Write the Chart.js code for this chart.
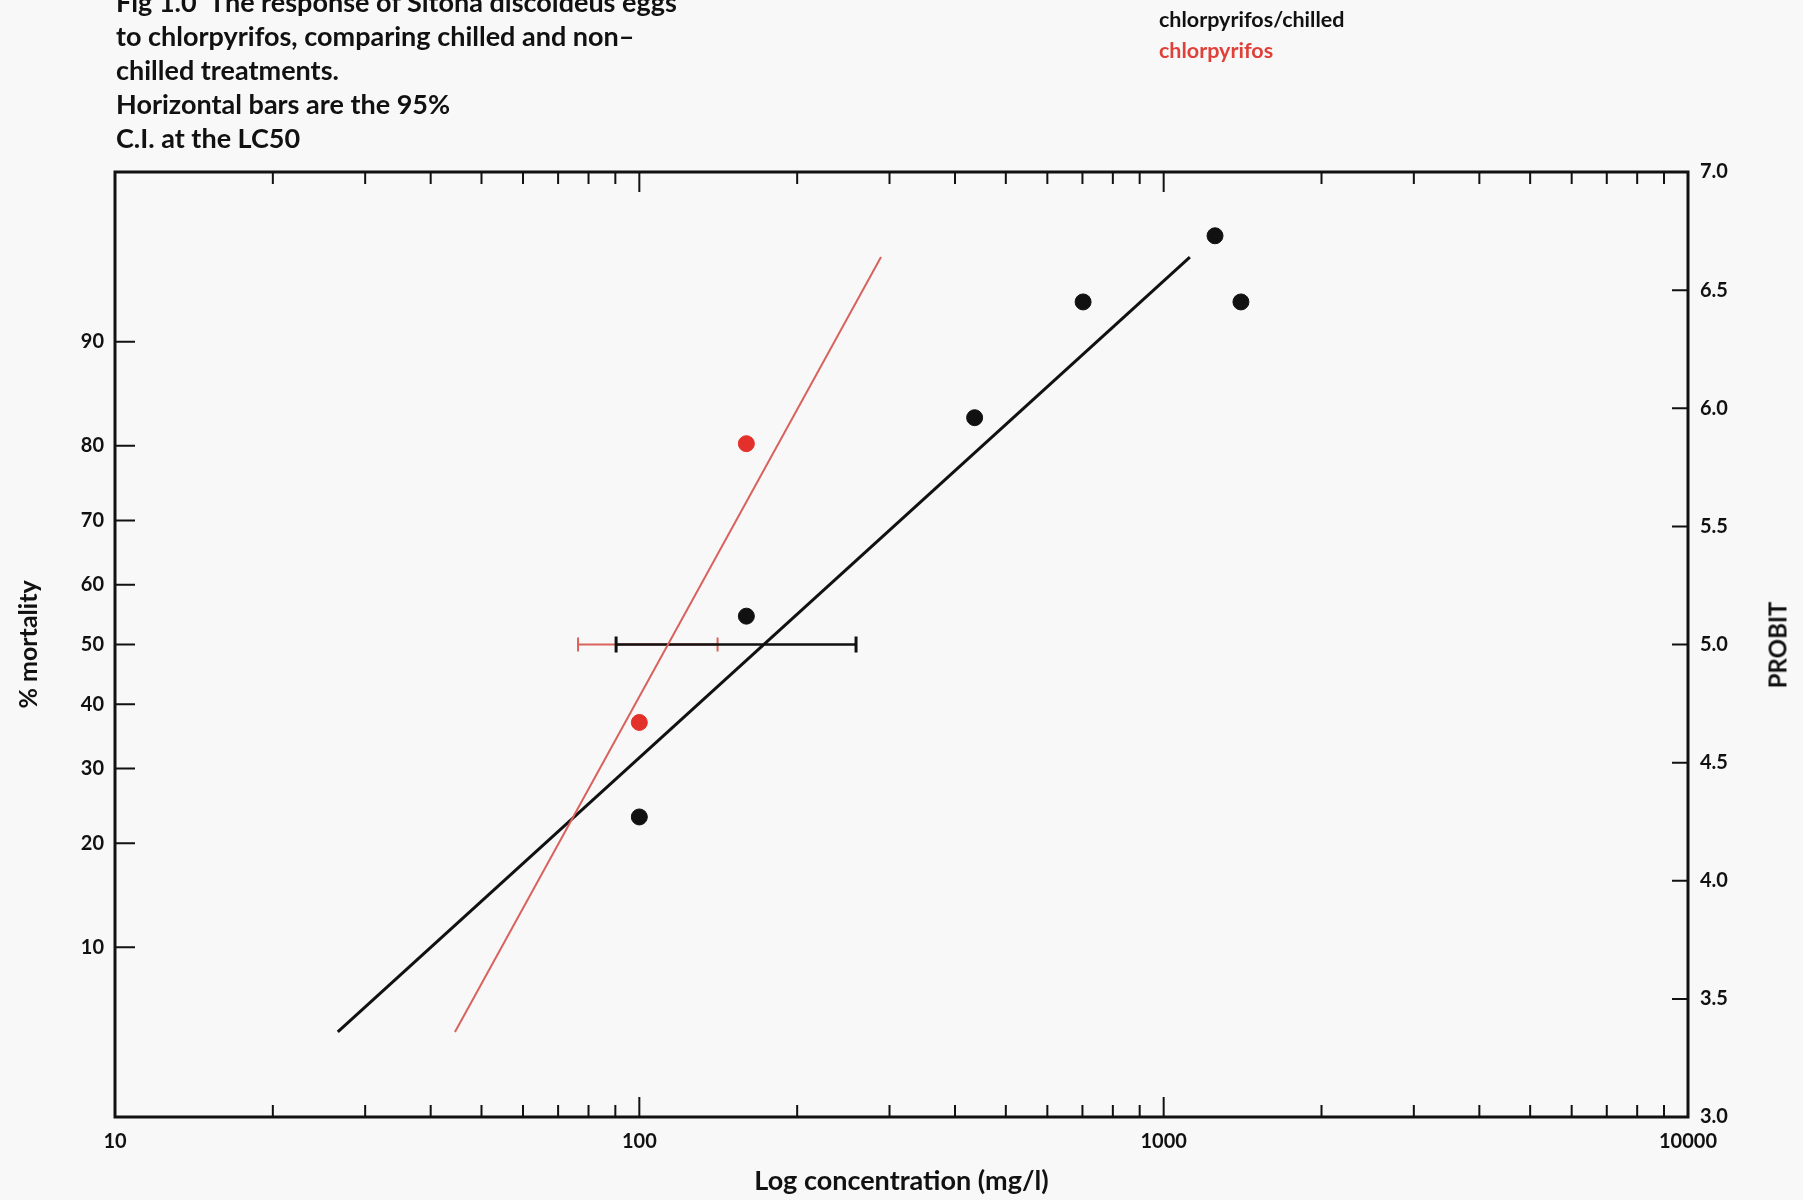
<!DOCTYPE html>
<html>
<head>
<meta charset="utf-8">
<style>
    body { margin: 0; background: #f8f8f8; }
    .chart-container { position: relative; width: 1803px; height: 1200px; font-family: Lato, "Noto Sans", sans-serif; }
    .fig-title { position: absolute; left: 116px; top: -15px; font-size: 27px; line-height: 34px; font-weight: 700; color: #111; white-space: pre; }
    .legend { position: absolute; left: 1159px; top: 4px; font-size: 21.5px; line-height: 31px; font-weight: 700; }
    .probit-label { position: absolute; left: 1777px; top: 645px; transform: translate(-50%, -50%) rotate(-90deg); font-size: 24px; font-weight: 700; color: #111; }
</style>
</head>
<body>
<div class="chart-container">
    <canvas id="myChart"></canvas>
    <div class="fig-title">Fig 1.0  The response of Sitona discoideus eggs
to chlorpyrifos, comparing chilled and non–
chilled treatments.
Horizontal bars are the 95%
C.I. at the LC50</div>
    <div class="legend">
        <div style="color:#111">chlorpyrifos/chilled</div>
        <div style="color:#e0403a">chlorpyrifos</div>
    </div>
    <div class="probit-label">PROBIT</div>
</div>

<script src="https://cdn.jsdelivr.net/npm/chart.js"></script>

<script>

    // observed points (concentration mg/l, probit)
    const chilledConc = [100, 160, 436, 702, 1253, 1404];
    const chilledProbit = [4.27, 5.12, 5.96, 6.45, 6.73, 6.45];
    const plainConc = [100, 160];
    const plainProbit = [4.67, 5.85];

    // fitted probit lines (end points)
    const chilledFitConc = [26.6, 1122];
    const chilledFitProbit = [3.36, 6.64];
    const plainFitConc = [44.5, 289];
    const plainFitProbit = [3.36, 6.64];

    // 95% C.I. at the LC50
    const chilledCI = [90.3, 259];
    const plainCI = [76.4, 141];

    // axis ticks
    const xTickValues = [10, 100, 1000, 10000];
    const mortalityTicks = [10, 20, 30, 40, 50, 60, 70, 80, 90];
    const probitTicks = [3.0, 3.5, 4.0, 4.5, 5.0, 5.5, 6.0, 6.5, 7.0];

    // inverse normal cdf (Acklam) - used to place % mortality on the probit scale
    function normInv(p) {
        const a = [-3.969683028665376e+01, 2.209460984245205e+02, -2.759285104469687e+02, 1.383577518672690e+02, -3.066479806614716e+01, 2.506628277459239e+00];
        const b = [-5.447609879822406e+01, 1.615858368580409e+02, -1.556989798598866e+02, 6.680131188771972e+01, -1.328068155288572e+01];
        const c = [-7.784894002430293e-03, -3.223964580411365e-01, -2.400758277161838e+00, -2.549732539343734e+00, 4.374664141464968e+00, 2.938163982698783e+00];
        const d = [7.784695709041462e-03, 3.224671290700398e-01, 2.445134137142996e+00, 3.754408661907416e+00];
        const pl = 0.02425;
        let q, r;
        if (p < pl) {
            q = Math.sqrt(-2 * Math.log(p));
            return (((((c[0]*q+c[1])*q+c[2])*q+c[3])*q+c[4])*q+c[5]) / ((((d[0]*q+d[1])*q+d[2])*q+d[3])*q+1);
        }
        if (p > 1 - pl) {
            q = Math.sqrt(-2 * Math.log(1 - p));
            return -(((((c[0]*q+c[1])*q+c[2])*q+c[3])*q+c[4])*q+c[5]) / ((((d[0]*q+d[1])*q+d[2])*q+d[3])*q+1);
        }
        q = p - 0.5;
        r = q * q;
        return (((((a[0]*r+a[1])*r+a[2])*r+a[3])*r+a[4])*r+a[5])*q / (((((b[0]*r+b[1])*r+b[2])*r+b[3])*r+b[4])*r+1);
    }
    const toProbit = pct => 5 + normInv(pct / 100);

    const pairs = (xs, ys) => xs.map((x, i) => ({ x: x, y: ys[i] }));

    const tickFont = { family: 'Lato, "Noto Sans", sans-serif', size: 20, weight: 'bold' };

    // frame and inward tick marks
    const framePlugin = {
        id: 'frame',
        afterDraw(chart) {
            const { ctx, chartArea: a, scales } = chart;
            ctx.save();
            ctx.strokeStyle = '#111';
            ctx.lineWidth = 2;
            ctx.beginPath();
            for (let dec = 10; dec < 10000; dec *= 10) {
                for (let k = 1; k <= 9; k++) {
                    if (k === 1 && dec === 10) continue;
                    const px = scales.x.getPixelForValue(dec * k);
                    const len = k === 1 ? 20 : 12;
                    ctx.moveTo(px, a.bottom); ctx.lineTo(px, a.bottom - len);
                    ctx.moveTo(px, a.top); ctx.lineTo(px, a.top + len);
                }
            }
            mortalityTicks.forEach(m => {
                const py = scales.yL.getPixelForValue(toProbit(m));
                ctx.moveTo(a.left, py); ctx.lineTo(a.left + 20, py);
            });
            probitTicks.slice(1, -1).forEach(p => {
                const py = scales.y.getPixelForValue(p);
                ctx.moveTo(a.right, py); ctx.lineTo(a.right - 16, py);
            });
            ctx.stroke();
            ctx.lineWidth = 3;
            ctx.strokeRect(a.left, a.top, a.right - a.left, a.bottom - a.top);
            ctx.restore();
        }
    };

    const ctx = document.getElementById('myChart').getContext('2d');

    const chartInstance = new Chart(ctx, {
        type: 'scatter',
        data: {
            datasets: [
                {
                    label: 'chlorpyrifos/chilled',
                    data: pairs(chilledConc, chilledProbit),
                    backgroundColor: '#111', borderColor: '#111',
                    pointRadius: 8, yAxisID: 'y', order: 1
                },
                {
                    label: 'chlorpyrifos',
                    data: pairs(plainConc, plainProbit),
                    backgroundColor: '#e3302a', borderColor: '#e3302a',
                    pointRadius: 8, yAxisID: 'y', order: 2
                },
                {
                    label: 'chilled fit',
                    data: pairs(chilledFitConc, chilledFitProbit),
                    showLine: true, borderColor: '#111', borderWidth: 3,
                    pointRadius: 0, yAxisID: 'y', order: 4
                },
                {
                    label: 'fit',
                    data: pairs(plainFitConc, plainFitProbit),
                    showLine: true, borderColor: '#d9625d', borderWidth: 2,
                    pointRadius: 0, yAxisID: 'y', order: 3
                },
                {
                    label: 'chilled CI',
                    data: pairs(chilledCI, [5, 5]),
                    showLine: true, borderColor: '#111', borderWidth: 2.5,
                    pointStyle: 'line', rotation: 90, pointRadius: 8, pointBorderWidth: 3,
                    pointBorderColor: '#111', yAxisID: 'y', order: 5
                },
                {
                    label: 'CI',
                    data: pairs(plainCI, [5, 5]),
                    showLine: true, borderColor: '#d9625d', borderWidth: 2,
                    pointStyle: 'line', rotation: 90, pointRadius: 7, pointBorderWidth: 2,
                    pointBorderColor: '#d9625d', yAxisID: 'y', order: 6
                }
            ]
        },
        options: {
            responsive: true,
            maintainAspectRatio: false,
            animation: false,
            layout: { padding: { top: 172, left: 0, right: 0, bottom: 0 } },
            plugins: { legend: { display: false }, tooltip: { enabled: false } },
            scales: {
                x: {
                    type: 'logarithmic', position: 'bottom', min: 10, max: 10000,
                    afterBuildTicks: s => { s.ticks = xTickValues.map(v => ({ value: v })); },
                    afterFit: s => { s.height = 83; },
                    grid: { display: false, drawTicks: false }, border: { display: false },
                    ticks: { color: '#111', font: tickFont, padding: 13, maxRotation: 0, autoSkip: false, callback: v => String(v) },
                    title: {
                        display: true, text: 'Log concentration (mg/l)', color: '#111',
                        font: { family: 'Lato, "Noto Sans", sans-serif', size: 27, weight: 'bold' },
                        padding: { top: 0, bottom: 3 }
                    }
                },
                yL: {
                    type: 'linear', position: 'left', min: 3, max: 7,
                    afterBuildTicks: s => { s.ticks = mortalityTicks.map(m => ({ value: toProbit(m) })); },
                    afterFit: s => { s.width = 115; },
                    grid: { display: false, drawTicks: false }, border: { display: false },
                    ticks: {
                        color: '#111', font: tickFont, padding: 11, autoSkip: false,
                        callback: (v, i) => String(mortalityTicks[i])
                    },
                    title: {
                        display: true, text: '% mortality', color: '#111',
                        font: { family: 'Lato, "Noto Sans", sans-serif', size: 25, weight: 'bold' },
                        padding: { top: 14, bottom: 0 }
                    }
                },
                y: {
                    type: 'linear', position: 'right', min: 3, max: 7,
                    afterBuildTicks: s => { s.ticks = probitTicks.map(p => ({ value: p })); },
                    afterFit: s => { s.width = 115; },
                    grid: { display: false, drawTicks: false }, border: { display: false },
                    ticks: { color: '#111', font: tickFont, padding: 12, autoSkip: false, callback: v => v.toFixed(1) }
                }
            }
        },
        plugins: [framePlugin]
    });

</script>
</body>
</html>
